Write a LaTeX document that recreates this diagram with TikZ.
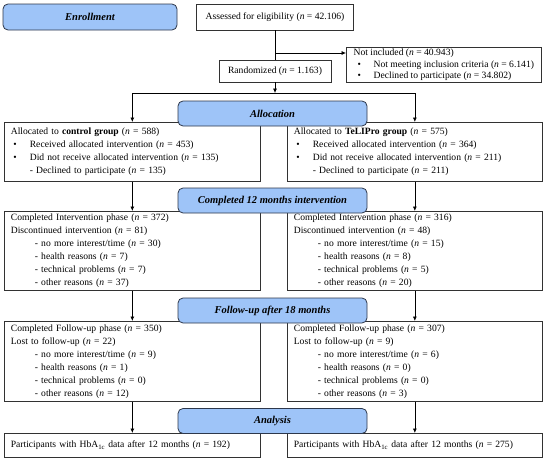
\documentclass[tikz,border=0pt]{standalone}
\usepackage{fontspec}
\setmainfont{Liberation Serif}
\usepackage{tikz}
\usetikzlibrary{arrows.meta}
\tikzset{>={Latex[width=4pt,length=4.5pt]}}
\definecolor{phaseblue}{RGB}{158,196,248}
\definecolor{phaseline}{RGB}{45,55,75}
\definecolor{boxline}{RGB}{50,50,50}
\newcommand{\bul}{\makebox[19pt][l]{\hspace{2.5pt}\textbullet}}
\newcommand{\dsh}{\hspace*{24pt}- }
\newcommand{\nn}[1]{(\textit{n} = #1)}
\tikzset{
	phase/.style={draw=phaseline,fill=phaseblue,rounded corners=5pt,line width=0.8pt,minimum width=189pt,minimum height=25pt,font=\fontsize{10.5}{12}\selectfont\bfseries\itshape},
	databox/.style={draw=boxline,fill=white,line width=0.7pt,anchor=north west,align=left,inner xsep=6.5pt,inner ysep=0pt,font=\fontsize{9.6}{13}\selectfont},
}

\begin{document}
\begin{tikzpicture}[x=1pt,y=-1pt,line width=0.7pt]
			\useasboundingbox (0,0) rectangle (550,463);
			
			% enrollment
			\node[phase,minimum width=174pt,minimum height=26pt] (enroll) at (90,17) {Enrollment};
			\node[databox,anchor=center,minimum width=157pt,minimum height=26pt] (assess) at (275,17) {Assessed for eligibility \nn{42.106}};
			\node[databox,minimum width=195pt,minimum height=35pt,inner xsep=4.5pt,font=\fontsize{9.6}{11.5}\selectfont] (notinc) at (346,47) {Not included \nn{40.943}\\
				\makebox[20pt][l]{\hspace{4pt}\textbullet}Not meeting inclusion criteria \nn{6.141}\\
				\makebox[20pt][l]{\hspace{4pt}\textbullet}Declined to participate \nn{34.802}};
			\node[databox,anchor=center,minimum width=112pt,minimum height=22pt] (random) at (275,71) {Randomized \nn{1.163}};
			\coordinate (branch) at (275,53);
			\coordinate (split) at (275,93);
			
			% allocation
			\node[databox,text width=243pt,minimum height=59pt] (ctrlAlloc) at (4,122) {Allocated to \textbf{control group} \nn{588}\\
				\bul Received allocated intervention \nn{453}\\
				\bul Did not receive allocated intervention \nn{135}\\
				\hspace*{19pt}- Declined to participate \nn{135}};
			\node[databox,text width=242pt,minimum height=59pt] (teleAlloc) at (287,122) {Allocated to \textbf{TeLIPro group} \nn{575}\\
				\bul Received allocated intervention \nn{364}\\
				\bul Did not receive allocated intervention \nn{211}\\
				\hspace*{19pt}- Declined to participate \nn{211}};
			
			% 12 months
			\node[databox,text width=243pt,minimum height=79pt] (ctrlDone) at (4,211) {Completed Intervention phase \nn{372}\\
				Discontinued intervention \nn{81}\\
				\dsh no more interest/time \nn{30}\\
				\dsh health reasons \nn{7}\\
				\dsh technical problems \nn{7}\\
				\dsh other reasons \nn{37}};
			\node[databox,text width=242pt,minimum height=79pt] (teleDone) at (287,211) {Completed Intervention phase \nn{316}\\
				Discontinued intervention \nn{48}\\
				\dsh no more interest/time \nn{15}\\
				\dsh health reasons \nn{8}\\
				\dsh technical problems \nn{5}\\
				\dsh other reasons \nn{20}};
			
			% follow-up
			\node[databox,text width=243pt,minimum height=80pt] (ctrlFollow) at (4,321) {Completed Follow-up phase \nn{350}\\
				Lost to follow-up \nn{22}\\
				\dsh no more interest/time \nn{9}\\
				\dsh health reasons \nn{1}\\
				\dsh technical problems \nn{0}\\
				\dsh other reasons \nn{12}};
			\node[databox,text width=242pt,minimum height=80pt] (teleFollow) at (287,321) {Completed Follow-up phase \nn{307}\\
				Lost to follow-up \nn{9}\\
				\dsh no more interest/time \nn{6}\\
				\dsh health reasons \nn{0}\\
				\dsh technical problems \nn{0}\\
				\dsh other reasons \nn{3}};
			
			% analysis
			\node[databox,text width=243pt,minimum height=24pt] (ctrlAna) at (4,433) {Participants with HbA\textsubscript{1c} data after 12 months \nn{192}};
			\node[databox,text width=242pt,minimum height=24pt] (teleAna) at (287,433) {Participants with HbA\textsubscript{1c} data after 12 months \nn{275}};
			
			\draw (assess) -- (random);
			\draw[->] (branch) -- (branch -| notinc.west);
			\draw[->] (random) -- (split);
			\draw[->] (split) -| (ctrlAlloc.north);
			\draw[->] (split) -| (teleAlloc.north);
			\draw[->] (ctrlAlloc) -- (ctrlDone);
			\draw[->] (teleAlloc) -- (teleDone);
			\draw[->] (ctrlDone) -- (ctrlFollow);
			\draw[->] (teleDone) -- (teleFollow);
			\draw[->] (ctrlFollow) -- (ctrlAna);
			\draw[->] (teleFollow) -- (teleAna);
			
			% phase labels on top
			\node[phase] (alloc) at (272.5,113.5) {Allocation};
			\node[phase] (done) at (272.5,200.5) {Completed 12 months intervention};
			\node[phase] (follow) at (272.5,310.5) {Follow-up after 18 months};
			\node[phase] (ana) at (272.5,421) {Analysis};
\end{tikzpicture}
\end{document}
